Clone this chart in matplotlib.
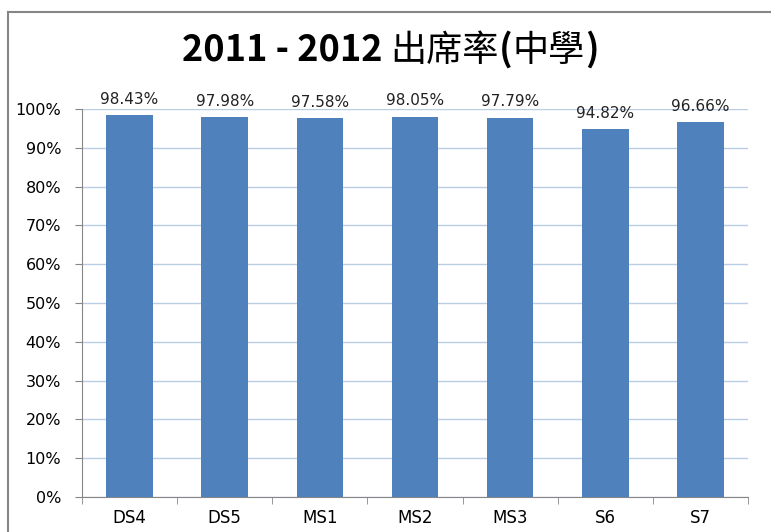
import numpy as np
import matplotlib.pyplot as plt
from matplotlib.lines import Line2D
from matplotlib.ticker import MultipleLocator, FixedLocator, PercentFormatter

plt.rcParams['font.family'] = ['DejaVu Sans', 'Noto Sans CJK TC']

categories = ['DS4', 'DS5', 'MS1', 'MS2', 'MS3', 'S6', 'S7']
rates = [98.43, 97.98, 97.58, 98.05, 97.79, 94.82, 96.66]
# title pieces: latin parts are bold, CJK parts regular weight
title_parts = [('2011 - 2012 ', 'bold'), ('出席率', 'normal'), ('(', 'bold'),
               ('中學', 'normal'), (')', 'bold')]

fig = plt.figure(figsize=(7.71, 5.32), dpi=100)
ax = fig.add_axes([0.1064, 0.0658, 0.8638, 0.7293])

x = np.arange(len(categories))
bars = ax.bar(x, rates, width=0.49, color='#4F81BD', zorder=3)

for xi, v in zip(x, rates):
    ax.annotate(f'{v:.2f}%', (xi, v), xytext=(0, 6), textcoords='offset points',
                ha='center', va='bottom', fontsize=11, color='#222222')

ax.set_xlim(-0.5, len(categories) - 0.5)
ax.set_ylim(0, 100)
ax.yaxis.set_major_locator(MultipleLocator(10))
ax.yaxis.set_major_formatter(PercentFormatter(decimals=0))
ax.grid(axis='y', color='#B9CDE5', linewidth=1, zorder=0)

ax.set_xticks(x)
ax.set_xticklabels(categories, fontsize=12)
ax.xaxis.set_minor_locator(FixedLocator(np.arange(-0.5, len(categories), 1)))
ax.tick_params(axis='x', which='major', length=0, pad=9)
ax.tick_params(axis='x', which='minor', length=5, color='#868686', direction='out')
ax.tick_params(axis='y', length=5, color='#868686', labelsize=11.5, pad=10)

for s in ['top', 'right']:
    ax.spines[s].set_visible(False)
for s in ['left', 'bottom']:
    ax.spines[s].set_color('#868686')

# title built from pieces laid out side by side, then centred
renderer = fig.canvas.get_renderer()
pieces = []
for txt, w in title_parts:
    t = fig.text(0, 0.908, txt, ha='left', va='baseline', fontsize=26, fontweight=w,
                 family=['Noto Sans CJK TC', 'DejaVu Sans'])
    pieces.append(t)
widths = [p.get_window_extent(renderer).width / fig.bbox.width for p in pieces]
x0 = 0.506 - sum(widths) / 2
for p, w in zip(pieces, widths):
    p.set_x(x0)
    x0 += w
for p in pieces:
    p.set_y(0.908 - 0.022)

# chart area border (left and top edges visible)
fig.add_artist(Line2D([0.011, 0.011], [0.0, 0.977], color='#868686', linewidth=1.5))
fig.add_artist(Line2D([0.011, 1.0], [0.977, 0.977], color='#868686', linewidth=1.5))

fig.savefig('out.png', dpi=100)
